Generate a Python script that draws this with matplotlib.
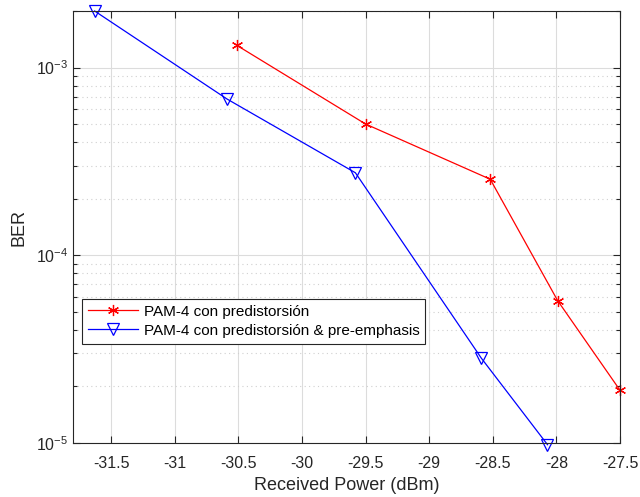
import matplotlib
matplotlib.use("Agg")
import matplotlib.pyplot as plt
from matplotlib.ticker import LogLocator, NullFormatter

plt.rcParams['font.family'] = ['Liberation Sans', 'DejaVu Sans']
plt.rcParams['mathtext.fontset'] = 'custom'
plt.rcParams['mathtext.rm'] = 'Liberation Sans'
plt.rcParams['mathtext.it'] = 'Liberation Sans:italic'

red_x = [-30.51, -29.5, -28.52, -27.99, -27.5]
red_y = [1.31e-3, 5.0e-4, 2.54e-4, 5.73e-5, 1.91e-5]
blue_x = [-31.63, -30.59, -29.58, -28.59, -28.07]
blue_y = [2.0e-3, 6.8e-4, 2.75e-4, 2.83e-5, 9.8e-6]
labels = ['PAM-4 con predistorsión', 'PAM-4 con predistorsión & pre-emphasis']
xticks = [-31.5, -31, -30.5, -30, -29.5, -29, -28.5, -28, -27.5]
xticklabels = ['-31.5', '-31', '-30.5', '-30', '-29.5', '-29', '-28.5', '-28', '-27.5']

fig = plt.figure(figsize=(6.4, 4.97), dpi=100)
ax = fig.add_axes([73/640, 54/497, (620-73)/640, (443-11)/497])

ax.plot(red_x, red_y, color='red', lw=0.9, marker=(6, 2, 0), ms=8, mew=0.9,
        label=labels[0], clip_on=False)
ax.plot(blue_x, blue_y, color='blue', lw=0.9, marker='v', ms=9, mfc='none',
        mew=0.9, label=labels[1], clip_on=False)

ax.set_yscale('log')
ax.set_xlim(-31.8, -27.5)
ax.set_ylim(1e-5, 2e-3)
ax.set_xticks(xticks)
ax.set_xticklabels(xticklabels)
ax.yaxis.set_major_locator(LogLocator(base=10, numticks=10))
ax.yaxis.set_minor_locator(LogLocator(base=10, subs=range(2, 10), numticks=20))
ax.yaxis.set_minor_formatter(NullFormatter())

ax.grid(True, which='major', color='#dcdcdc', lw=0.8, ls='-')
ax.grid(True, which='minor', axis='y', color='#d0d0d0', lw=0.8, ls=(0, (1, 3)))
ax.set_axisbelow(True)

for s in ax.spines.values():
    s.set_color('#262626')
    s.set_linewidth(0.8)
ax.tick_params(which='both', direction='in', top=True, right=True,
               colors='#262626', labelsize=11.5, width=0.8)
ax.tick_params(which='major', length=5)
ax.tick_params(which='minor', length=3)
ax.tick_params(axis='x', pad=9)
for lab in ax.get_xticklabels() + ax.get_yticklabels():
    lab.set_color('#262626')

ax.set_xlabel('Received Power (dBm)', fontsize=13, color='#262626', labelpad=5)
ax.set_ylabel('BER', fontsize=13, color='#262626', labelpad=6)

leg = ax.legend(loc='upper left', bbox_to_anchor=((82-73)/547, (443-299)/432),
                fontsize=11, frameon=True, fancybox=False, framealpha=1,
                edgecolor='#262626', borderpad=0.38, labelspacing=0.33,
                handlelength=3.3, handletextpad=0.35, borderaxespad=0)
leg.get_frame().set_linewidth(0.8)

fig.savefig('out.png', dpi=100)
